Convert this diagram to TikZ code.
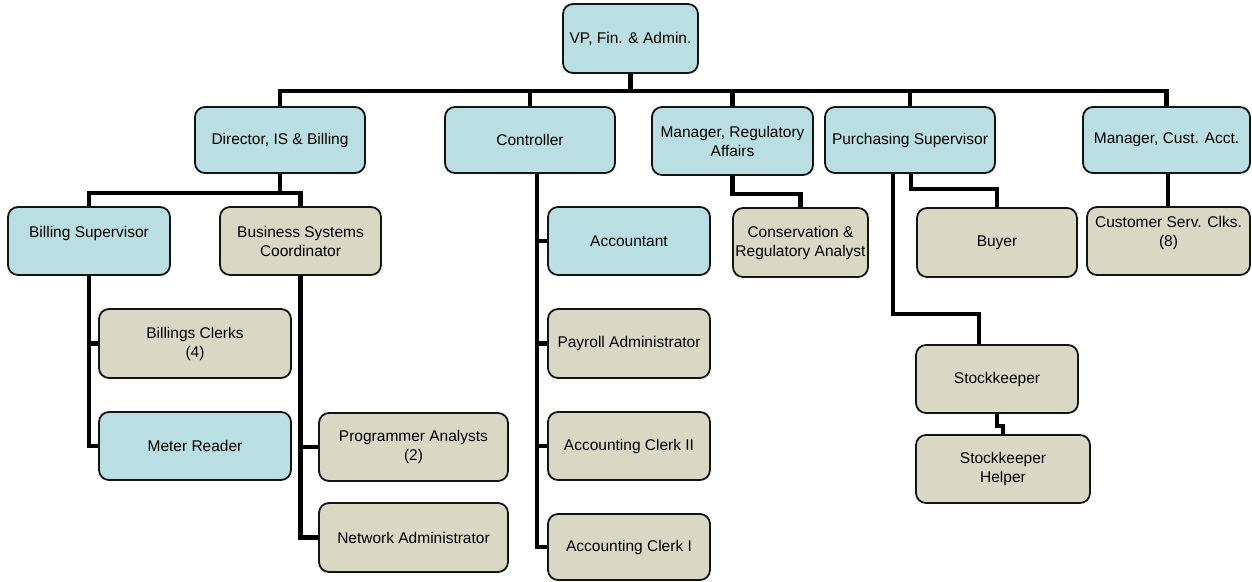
\documentclass[tikz,border=0pt]{standalone}
\usepackage{fontspec}
\setmainfont{Liberation Sans}
\definecolor{boxblue}{RGB}{185,223,227}
\definecolor{boxtan}{RGB}{216,216,196}
\definecolor{edge}{RGB}{20,20,20}
\begin{document}
\begin{tikzpicture}[x=1pt,y=-1pt,
  box/.style={draw=edge, line width=1.8pt, rounded corners=10pt, inner sep=0pt,
    align=center, font=\fontsize{15.5}{19}\selectfont, minimum height=68pt},
  bluebox/.style={box, fill=boxblue},
  tanbox/.style={box, fill=boxtan},
  link/.style={draw=black, line width=4.5pt}]
\useasboundingbox (0,0) rectangle (1252,581);

% top level
\node[bluebox, minimum width=135pt, minimum height=69pt] (vp) at (630.5,38.5) {VP, Fin. \& Admin.};

% second level
\node[bluebox, minimum width=170pt, minimum height=66pt] (dir) at (280,140) {Director, IS \& Billing};
\node[bluebox, minimum width=170pt, minimum height=66pt] (ctl) at (530,140) {Controller};
\node[bluebox, minimum width=161pt] (mra) at (732.5,141) {Manager, Regulatory\\Affairs};
\node[bluebox, minimum width=170pt, minimum height=66pt] (ps) at (910,140) {Purchasing Supervisor};
\node[bluebox, minimum width=167pt, minimum height=66pt] (mca) at (1166.5,140) {Manager, Cust. Acct.};

% third level
\node[bluebox, minimum width=162pt] (bs) at (89,241) {Billing Supervisor\\\mbox{}};
\node[tanbox, minimum width=161pt] (bsc) at (300.5,241) {Business Systems\\Coordinator};
\node[bluebox, minimum width=162pt] (acct) at (629,241) {Accountant};
\node[tanbox, minimum width=135pt, minimum height=69pt] (cra) at (800.5,242.5) {Conservation \&\\Regulatory Analyst};
\node[tanbox, minimum width=160pt, minimum height=69pt] (buyer) at (997,242.5) {Buyer};
\node[tanbox, minimum width=163pt] (csc) at (1168.5,241) {Customer Serv. Clks.\\(8)\\\mbox{}};

% lower levels
\node[tanbox, minimum width=192pt, minimum height=69pt] (bc) at (195,343.5) {Billings Clerks\\(4)};
\node[bluebox, minimum width=192pt] (mr) at (195,446) {Meter Reader};
\node[tanbox, minimum width=189pt] (pa) at (413.5,447) {Programmer Analysts\\(2)};
\node[tanbox, minimum width=189pt, minimum height=69pt] (na) at (413.5,537.5) {Network Administrator};
\node[tanbox, minimum width=162pt, minimum height=69pt] (pay) at (629,343.5) {Payroll Administrator};
\node[tanbox, minimum width=162pt] (ac2) at (629,446) {Accounting Clerk II};
\node[tanbox, minimum width=162pt, minimum height=66pt] (ac1) at (629,547) {Accounting Clerk I};
\node[tanbox, minimum width=162pt] (sk) at (997,379) {Stockkeeper};
\node[tanbox, minimum width=174pt] (skh) at (1003,469) {Stockkeeper\\Helper};

% connectors
\path (vp.south) ++(0,17) coordinate (bus);
\draw[link] (vp.south) -- (bus);
\draw[link] (dir.north) |- (bus) -| (mca.north);
\draw[link] (ctl.north) -- (ctl.north |- bus);
\draw[link] (mra.north) -- (mra.north |- bus);
\draw[link] (ps.north) -- (ps.north |- bus);

% Director, IS & Billing
\draw[link] (dir.south) -- ++(0,19) coordinate (dirbus);
\draw[link] (bs.north) |- (dirbus) -| (bsc.north);
\draw[link] (bs.south) |- (mr.west);
\draw[link] (bc.west) -- (bc.west -| bs.south);
\draw[link] (bsc.south) |- (na.west);
\draw[link] (pa.west) -- (pa.west -| bsc.south);

% Controller
\coordinate (cspine) at ([xshift=7pt]ctl.south);
\draw[link] (cspine) |- (ac1.west);
\draw[link] (acct.west) -- (acct.west -| cspine);
\draw[link] (pay.west) -- (pay.west -| cspine);
\draw[link] (ac2.west) -- (ac2.west -| cspine);

% Manager, Regulatory Affairs
\draw[link] (mra.south) -- ++(0,18) -| (cra.north);

% Purchasing Supervisor
\draw[link] ([xshift=1pt]ps.south) -- ++(0,15) -| (buyer.north);
\draw[link] ([xshift=-17pt]ps.south) -- ++(0,140) -| ([xshift=-18pt]sk.north);
\draw[link] (sk.south) -- ++(0,12) -| (skh.north);

% Manager, Cust. Acct.
\draw[link] ([xshift=1.5pt]mca.south) -- ([xshift=1.5pt]mca.south |- csc.north);
\end{tikzpicture}
\end{document}
